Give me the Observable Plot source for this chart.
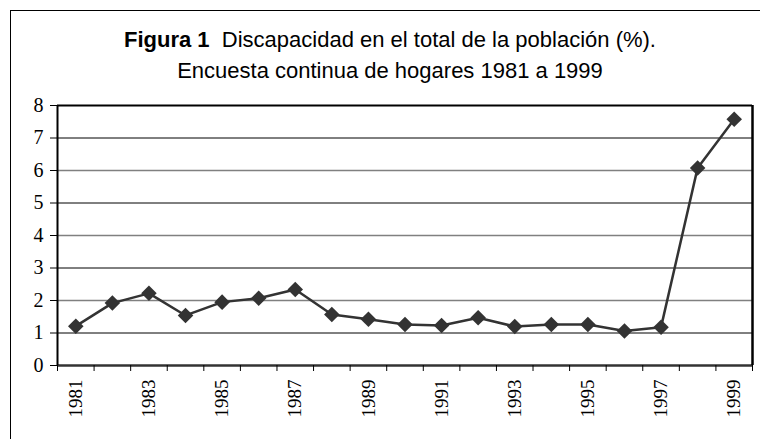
<!DOCTYPE html>
<html>
<head>
<meta charset="utf-8">
<script src="https://cdn.jsdelivr.net/npm/d3@7"></script>
<script src="https://cdn.jsdelivr.net/npm/@observablehq/plot@0.6"></script>
<style>
  html, body { margin: 0; padding: 0; background: #fff; }
  #wrap { position: relative; width: 760px; height: 439px; overflow: hidden; }
  #frame { position: absolute; left: 10px; top: 10px; width: 760px; height: 460px;
           border-left: 1.5px solid #000; border-top: 1.5px solid #000; box-sizing: border-box; }
  #title { position: absolute; left: 20px; top: 24px; width: 740px; text-align: center;
           font-family: "Liberation Sans", Arial, sans-serif; font-size: 22px; line-height: 31px; color: #000; }
  #chart { position: absolute; left: 0; top: 90px; }
</style>
</head>
<body>
<div id="wrap">
  <div id="frame"></div>
  <div id="title"><b>Figura 1</b>&nbsp; Discapacidad en el total de la población (%).<br>Encuesta continua de hogares 1981 a 1999</div>
  <div id="chart"></div>
</div>
<script>
const years = [1981,1982,1983,1984,1985,1986,1987,1988,1989,1990,1991,1992,1993,1994,1995,1996,1997,1998,1999];
const values = [1.21,1.92,2.22,1.54,1.95,2.07,2.34,1.57,1.42,1.26,1.23,1.47,1.20,1.26,1.26,1.06,1.18,6.08,7.58];
const yTicks = [0,1,2,3,4,5,6,7,8];
const gridBlack = [1,3,5,7];
const gridGray = [2,4,6];
const labelYears = years.filter(y => y % 2 === 1);
const boundaries = [years[0] - 0.5, ...years.map(y => y + 0.5)];

const data = years.map((y, i) => ({year: y, value: values[i]}));

const chart = Plot.plot({
  width: 760,
  height: 349,
  marginLeft: 57,
  marginRight: 8,
  marginTop: 15,
  marginBottom: 74,
  style: {fontFamily: "'Liberation Serif', 'Times New Roman', serif", fontSize: "19px", color: "#000", background: "transparent"},
  x: {domain: [boundaries[0], boundaries[boundaries.length - 1]]},
  y: {domain: [0, 8]},
  marks: [
    Plot.ruleY(gridGray, {stroke: "#808080", strokeWidth: 1.6}),
    Plot.ruleY(gridBlack, {stroke: "#000", strokeWidth: 1}),
    Plot.ruleY([8], {stroke: "#000", strokeWidth: 2}),
    Plot.ruleY([0], {stroke: "#333", strokeWidth: 2.5}),
    Plot.ruleX([boundaries[0]], {stroke: "#000", strokeWidth: 2}),
    Plot.ruleX([boundaries[boundaries.length - 1]], {stroke: "#000", strokeWidth: 2.5}),
    Plot.axisY({ticks: yTicks, tickSize: 7, tickPadding: 7, tickFormat: d => String(d), label: null, fontSize: 20}),
    Plot.axisX({ticks: boundaries, tickSize: 6, tickFormat: () => "", label: null}),
    Plot.axisX({ticks: labelYears, tickSize: 0, tickPadding: 14, tickRotate: -90, tickFormat: d => String(d), label: null, fontSize: 19}),
    Plot.line(data, {x: "year", y: "value", stroke: "#333", strokeWidth: 2.5}),
    Plot.dot(data, {x: "year", y: "value", symbol: "diamond2", r: 7, fill: "#333", stroke: "none"})
  ]
});
document.getElementById("chart").appendChild(chart);
</script>
</body>
</html>
